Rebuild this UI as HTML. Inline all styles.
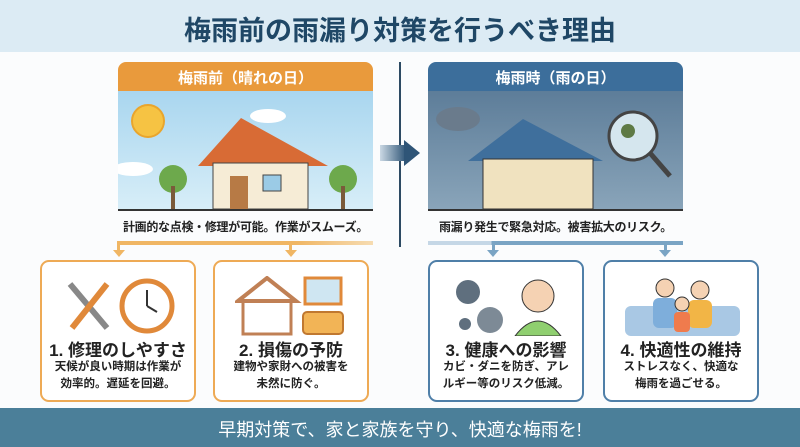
<!DOCTYPE html>
<html><head><meta charset="utf-8"><style>
*{margin:0;padding:0;box-sizing:border-box}
body{width:800px;height:447px;background:#fbfcfd;font-family:"Liberation Sans","Noto Sans CJK JP",sans-serif;position:relative;overflow:hidden}
.a{position:absolute}
.t{font-weight:bold;text-align:center;white-space:nowrap}
.card{position:absolute;top:260px;width:156px;height:142px;border:2px solid;border-radius:9px;background:#fff}
.card .h{position:absolute;top:74px;width:100%;text-align:center;font-weight:bold;font-size:17px;color:#222;white-space:nowrap}
.card .d{position:absolute;top:97px;width:100%;text-align:center;font-size:11.5px;line-height:17px;color:#222;font-weight:bold;white-space:nowrap}
</style></head><body>
<div class="a" style="left:0;top:0;width:800px;height:52px;background:#dcebf4"></div>
<div class="a t" style="left:0;top:9px;width:800px;font-size:27px;color:#1f4766">梅雨前の雨漏り対策を行うべき理由</div>

<div class="a" style="left:118px;top:62px;width:255px;height:29px;background:#e99a3c;border-radius:8px 8px 0 0"></div>
<div class="a t" style="left:118px;top:67px;width:255px;font-size:15px;color:#fff">梅雨前（晴れの日）</div>
<div class="a" style="left:118px;top:91px;width:255px;height:120px;background:linear-gradient(#a9d6ef,#d8eef8)"></div>
<svg class="a" style="left:118px;top:91px" width="255" height="120">
<circle cx="30" cy="30" r="16" fill="#f6c343" stroke="#e9a52c" stroke-width="2"/>
<ellipse cx="150" cy="25" rx="18" ry="7" fill="#fff"/>
<ellipse cx="15" cy="78" rx="20" ry="7" fill="#fff"/>
<circle cx="55" cy="88" r="14" fill="#6da94c"/><rect x="53" y="95" width="4" height="24" fill="#7a5a3a"/>
<circle cx="225" cy="88" r="14" fill="#6da94c"/><rect x="223" y="95" width="4" height="24" fill="#7a5a3a"/>
<polygon points="80,75 123,27 210,75" fill="#d86b35"/>
<rect x="95" y="72" width="95" height="46" fill="#f6ecd6" stroke="#444"/>
<rect x="112" y="85" width="18" height="33" fill="#b77a45"/>
<rect x="145" y="84" width="18" height="16" fill="#9bcbe6" stroke="#444"/>
<rect x="0" y="118" width="255" height="2" fill="#333"/>
</svg>
<div class="a t" style="left:108px;top:218px;width:275px;font-size:12px;color:#222;letter-spacing:-0.3px">計画的な点検・修理が可能。作業がスムーズ。</div>

<div class="a" style="left:399px;top:62px;width:2px;height:185px;background:#2d4a63"></div>
<div class="a" style="left:380px;top:145px;width:26px;height:16px;background:linear-gradient(90deg,#cbd9e4,#2f5577)"></div>
<div class="a" style="left:404px;top:140px;width:0;height:0;border-top:13px solid transparent;border-bottom:13px solid transparent;border-left:16px solid #2f5577"></div>

<div class="a" style="left:428px;top:62px;width:255px;height:29px;background:#3c6e9b;border-radius:8px 8px 0 0"></div>
<div class="a t" style="left:428px;top:67px;width:255px;font-size:15px;color:#fff">梅雨時（雨の日）</div>
<div class="a" style="left:428px;top:91px;width:255px;height:120px;background:linear-gradient(#5d7d99,#8aa5ba)"></div>
<svg class="a" style="left:428px;top:91px" width="255" height="120">
<ellipse cx="30" cy="28" rx="22" ry="12" fill="#6a7b8c"/>
<polygon points="40,70 95,28 175,70" fill="#3f6f9c"/>
<rect x="55" y="68" width="110" height="50" fill="#f0e2bf" stroke="#333"/>
<circle cx="205" cy="45" r="24" fill="#d5e6ee" stroke="#444" stroke-width="3"/>
<line x1="222" y1="62" x2="242" y2="85" stroke="#444" stroke-width="5"/>
<circle cx="200" cy="40" r="7" fill="#5e7a45"/>
<rect x="0" y="118" width="255" height="2" fill="#333"/>
</svg>
<div class="a t" style="left:418px;top:218px;width:275px;font-size:12px;color:#222;letter-spacing:-0.3px">雨漏り発生で緊急対応。被害拡大のリスク。</div>

<div class="a" style="left:118px;top:241px;width:255px;height:4px;background:linear-gradient(90deg,#f0b664 70%,#f6dcb2)"></div>
<div class="a" style="left:117px;top:241px;width:3px;height:10px;background:#f0b664"></div>
<div class="a" style="left:289px;top:241px;width:3px;height:10px;background:#f0b664"></div>
<div class="a" style="left:113px;top:250px;border-left:6px solid transparent;border-right:6px solid transparent;border-top:7px solid #f0b664"></div>
<div class="a" style="left:285px;top:250px;border-left:6px solid transparent;border-right:6px solid transparent;border-top:7px solid #f0b664"></div>
<div class="a" style="left:428px;top:241px;width:255px;height:4px;background:linear-gradient(90deg,#c5d7e6 25%,#7aa4c4 25%)"></div>
<div class="a" style="left:492px;top:241px;width:3px;height:10px;background:#7aa4c4"></div>
<div class="a" style="left:664px;top:241px;width:3px;height:10px;background:#7aa4c4"></div>
<div class="a" style="left:487px;top:250px;border-left:6px solid transparent;border-right:6px solid transparent;border-top:7px solid #7aa4c4"></div>
<div class="a" style="left:659px;top:250px;border-left:6px solid transparent;border-right:6px solid transparent;border-top:7px solid #7aa4c4"></div>

<div class="card" style="left:40px;border-color:#eeaa55">
<svg class="a" style="left:20px;top:14px" width="115" height="60"><line x1="8" y1="8" x2="45" y2="52" stroke="#888" stroke-width="6"/><line x1="45" y1="8" x2="10" y2="52" stroke="#e0893a" stroke-width="6"/><circle cx="85" cy="30" r="25" fill="#fff" stroke="#e0893a" stroke-width="5"/><line x1="85" y1="30" x2="85" y2="14" stroke="#333" stroke-width="2"/><line x1="85" y1="30" x2="95" y2="36" stroke="#333" stroke-width="2"/></svg>
<div class="h">1. 修理のしやすさ</div><div class="d">天候が良い時期は作業が<br>効率的。遅延を回避。</div></div>
<div class="card" style="left:213px;border-color:#eeaa55">
<svg class="a" style="left:20px;top:14px" width="115" height="60"><polygon points="3,25 32,2 61,25" fill="none" stroke="#c08055" stroke-width="4"/><rect x="8" y="25" width="48" height="33" fill="none" stroke="#c08055" stroke-width="3"/><rect x="70" y="2" width="36" height="26" fill="#cfe6f2" stroke="#e0893a" stroke-width="3"/><rect x="68" y="36" width="40" height="22" rx="4" fill="#f2b456" stroke="#c07830" stroke-width="2"/></svg>
<div class="h">2. 損傷の予防</div><div class="d">建物や家財への被害を<br>未然に防ぐ。</div></div>
<div class="card" style="left:428px;border-color:#4f7fa8">
<svg class="a" style="left:20px;top:14px" width="115" height="60"><circle cx="18" cy="16" r="12" fill="#5f6f7e"/><circle cx="40" cy="44" r="13" fill="#7d8a96"/><circle cx="15" cy="48" r="6" fill="#5f6f7e"/><circle cx="88" cy="20" r="16" fill="#f5d2b3" stroke="#333"/><path d="M65 60 Q88 30 111 60Z" fill="#8fcf6f" stroke="#333"/></svg>
<div class="h">3. 健康への影響</div><div class="d">カビ・ダニを防ぎ、アレ<br>ルギー等のリスク低減。</div></div>
<div class="card" style="left:603px;border-color:#4f7fa8">
<svg class="a" style="left:15px;top:14px" width="125" height="60"><rect x="5" y="30" width="115" height="30" rx="6" fill="#a9c8e4"/><circle cx="45" cy="12" r="9" fill="#f5d2b3" stroke="#333"/><rect x="33" y="22" width="24" height="30" rx="6" fill="#7eaedb"/><circle cx="80" cy="14" r="9" fill="#f5d2b3" stroke="#333"/><rect x="68" y="24" width="24" height="28" rx="6" fill="#f2b546"/><circle cx="62" cy="28" r="7" fill="#f5d2b3" stroke="#333"/><rect x="54" y="36" width="16" height="20" rx="4" fill="#ef7b4d"/></svg>
<div class="h">4. 快適性の維持</div><div class="d">ストレスなく、快適な<br>梅雨を過ごせる。</div></div>

<div class="a" style="left:0;top:408px;width:800px;height:39px;background:#4b7f99"></div>
<div class="a" style="left:0;top:416px;width:800px;text-align:center;font-size:18px;color:#fff">早期対策で、家と家族を守り、快適な梅雨を!</div>
</body></html>
